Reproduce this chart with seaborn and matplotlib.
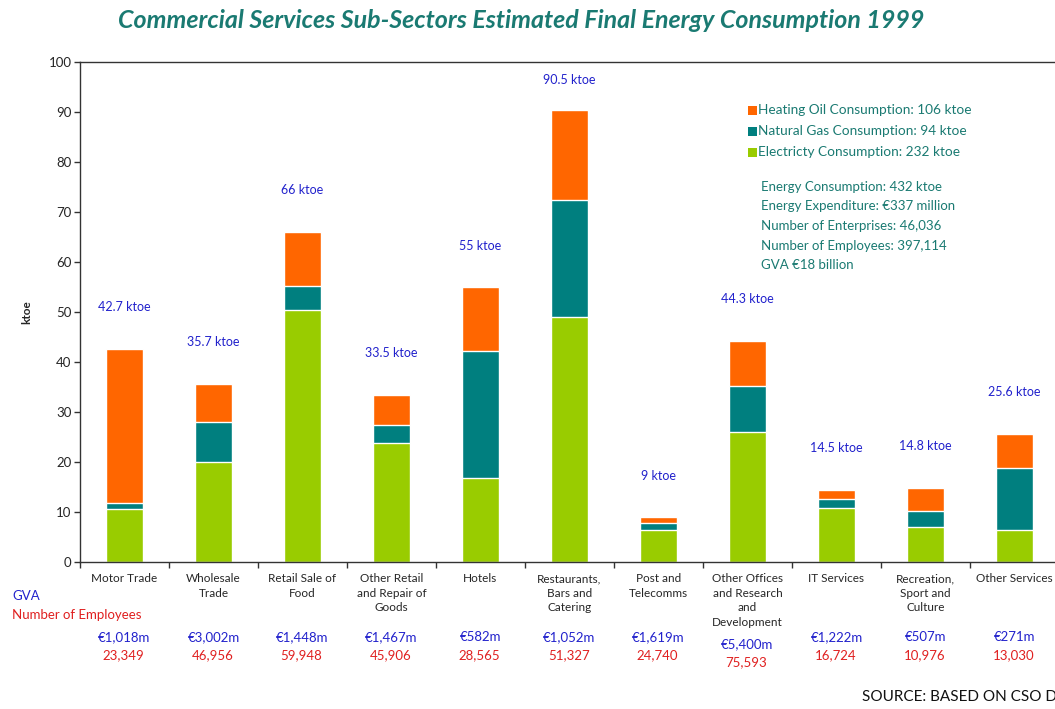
import numpy as np
import pandas as pd
import matplotlib
matplotlib.use("Agg")
import matplotlib.pyplot as plt
from matplotlib.ticker import FixedLocator
import seaborn as sns

# ---- data -------------------------------------------------------------
sectors = [
    "Motor Trade", "Wholesale\nTrade", "Retail Sale of\nFood",
    "Other Retail\nand Repair of\nGoods", "Hotels",
    "Restaurants,\nBars and\nCatering", "Post and\nTelecomms",
    "Other Offices\nand Research\nand\nDevelopment", "IT Services",
    "Recreation,\nSport and\nCulture", "Other Services",
]
electricity = [10.6, 20.1, 50.5, 23.9, 16.8, 49.0, 6.4, 26.1, 10.9, 7.1, 6.5]
natural_gas = [1.3, 7.9, 4.7, 3.6, 25.5, 23.4, 1.5, 9.1, 1.7, 3.2, 12.3]
heating_oil = [30.8, 7.7, 10.8, 6.0, 12.7, 18.1, 1.1, 9.1, 1.9, 4.5, 6.8]
totals = [42.7, 35.7, 66, 33.5, 55, 90.5, 9, 44.3, 14.5, 14.8, 25.6]
total_labels = ["42.7 ktoe", "35.7 ktoe", "66 ktoe", "33.5 ktoe", "55 ktoe",
                "90.5 ktoe", "9 ktoe", "44.3 ktoe", "14.5 ktoe", "14.8 ktoe",
                "25.6 ktoe"]
gva = ["€1,018m", "€3,002m", "€1,448m", "€1,467m", "€582m", "€1,052m",
       "€1,619m", "€5,400m", "€1,222m", "€507m", "€271m"]
employees = ["23,349", "46,956", "59,948", "45,906", "28,565", "51,327",
             "24,740", "75,593", "16,724", "10,976", "13,030"]
legend_labels = ["Heating Oil Consumption: 106 ktoe",
                 "Natural Gas Consumption: 94 ktoe",
                 "Electricty Consumption: 232 ktoe"]
summary_lines = ["Energy Consumption: 432 ktoe",
                 "Energy Expenditure: €337 million",
                 "Number of Enterprises: 46,036",
                 "Number of Employees: 397,114",
                 "GVA €18 billion"]
title = "Commercial Services Sub-Sectors Estimated Final Energy Consumption 1999"
source = "SOURCE: BASED ON CSO DATA"

# ---- style ------------------------------------------------------------
sns.set_style("white")
plt.rcParams["font.family"] = ["Lato", "DejaVu Sans"]

C_OIL = "#FF6600"
C_GAS = "#007F7F"
C_ELEC = "#99CC00"
C_TEAL_TXT = "#1A7A72"
C_BLUE = "#2222CC"
C_RED = "#E02020"

df = pd.DataFrame({
    "sector": sectors,
    "elec": electricity,
    "gas": natural_gas,
    "oil": heating_oil,
})
df["elec_gas"] = df["elec"] + df["gas"]
df["all"] = df["elec_gas"] + df["oil"]

W, H = 1055, 709
fig = plt.figure(figsize=(W / 100, H / 100), dpi=100)
ax = fig.add_axes([80 / W, 1 - 562 / H, 979 / W, 500 / H])

# stacked bars drawn as overlapping cumulative layers
bw = 0.42
sns.barplot(data=df, x="sector", y="all", color=C_OIL, width=bw,
            saturation=1, ax=ax, order=sectors)
sns.barplot(data=df, x="sector", y="elec_gas", color=C_GAS, width=bw,
            saturation=1, ax=ax, order=sectors)
sns.barplot(data=df, x="sector", y="elec", color=C_ELEC, width=bw,
            saturation=1, ax=ax, order=sectors)

ax.set_xlim(-0.5, len(sectors) - 0.5)
ax.set_ylim(0, 100)
ax.set_yticks(np.arange(0, 101, 10))
ax.set_xlabel("")
ax.set_ylabel("ktoe", fontsize=8.5, fontweight="bold", labelpad=12)

for side in ["left", "bottom", "top"]:
    ax.spines[side].set_visible(True)
    ax.spines[side].set_color("#333333")
    ax.spines[side].set_linewidth(1.0)
ax.spines["right"].set_visible(False)

ax.tick_params(axis="y", which="major", direction="out", length=4,
               width=1, color="#333333", labelsize=9.5, pad=2, left=True)
ax.tick_params(axis="x", which="major", length=0, labelsize=8.5, pad=8)
ax.xaxis.set_minor_locator(FixedLocator(np.arange(-0.5, len(sectors), 1.0)))
ax.tick_params(axis="x", which="minor", direction="out", length=4,
               width=1, color="#333333", bottom=True)
ax.set_xticks(range(len(sectors)))
ax.set_xticklabels(sectors, fontsize=8.5, linespacing=1.4, va="top")

# total labels above each bar, kept inside the plotting frame
for i, (t, lab) in enumerate(zip(totals, total_labels)):
    ax.text(i, min(t + 8.3, 96.4), lab, ha="center", va="center",
            fontsize=9, color=C_BLUE)

# GVA / employees rows under the category labels
trans = ax.get_xaxis_transform()
for i, (g, e, s) in enumerate(zip(gva, employees, sectors)):
    extra = 0.014 if s.count("\n") >= 3 else 0.0
    ax.text(i, -0.15 - extra, g, transform=trans, ha="center", va="center",
            fontsize=9.5, color=C_BLUE, clip_on=False)
    ax.text(i - 0.01, -0.186 - extra, e, transform=trans, ha="center",
            va="center", fontsize=9.5, color=C_RED, clip_on=False)

fig.text(12 / W, 1 - 596 / H, "GVA", fontsize=9.5, color=C_BLUE,
         ha="left", va="center")
fig.text(12 / W, 1 - 615 / H, "Number of Employees", fontsize=9.5,
         color=C_RED, ha="left", va="center")

# legend block
leg_colors = [C_OIL, C_GAS, C_ELEC]
for k, (lab, col) in enumerate(zip(legend_labels, leg_colors)):
    yk = 1 - (110 + 21 * k) / H
    fig.patches.append(plt.Rectangle((748 / W, yk - 4.5 / H), 9 / W, 9 / H,
                                     transform=fig.transFigure,
                                     facecolor=col, edgecolor="none"))
    fig.text(758 / W, yk, lab, fontsize=9.8, color=C_TEAL_TXT,
             ha="left", va="center")
for k, line in enumerate(summary_lines):
    fig.text(761 / W, 1 - (187 + 19.5 * k) / H, line, fontsize=9.5,
             color=C_TEAL_TXT, ha="left", va="center")

fig.text(521 / W, 1 - 20 / H, title, fontsize=18, fontweight="bold",
         fontstyle="italic", color=C_TEAL_TXT, ha="center", va="center",
         family=["Liberation Sans Narrow", "Lato", "DejaVu Sans"])
fig.text(862 / W, 1 - 697 / H, source, fontsize=11, color="#111111",
         ha="left", va="center")

fig.savefig("out.png", dpi=100, facecolor="white")
